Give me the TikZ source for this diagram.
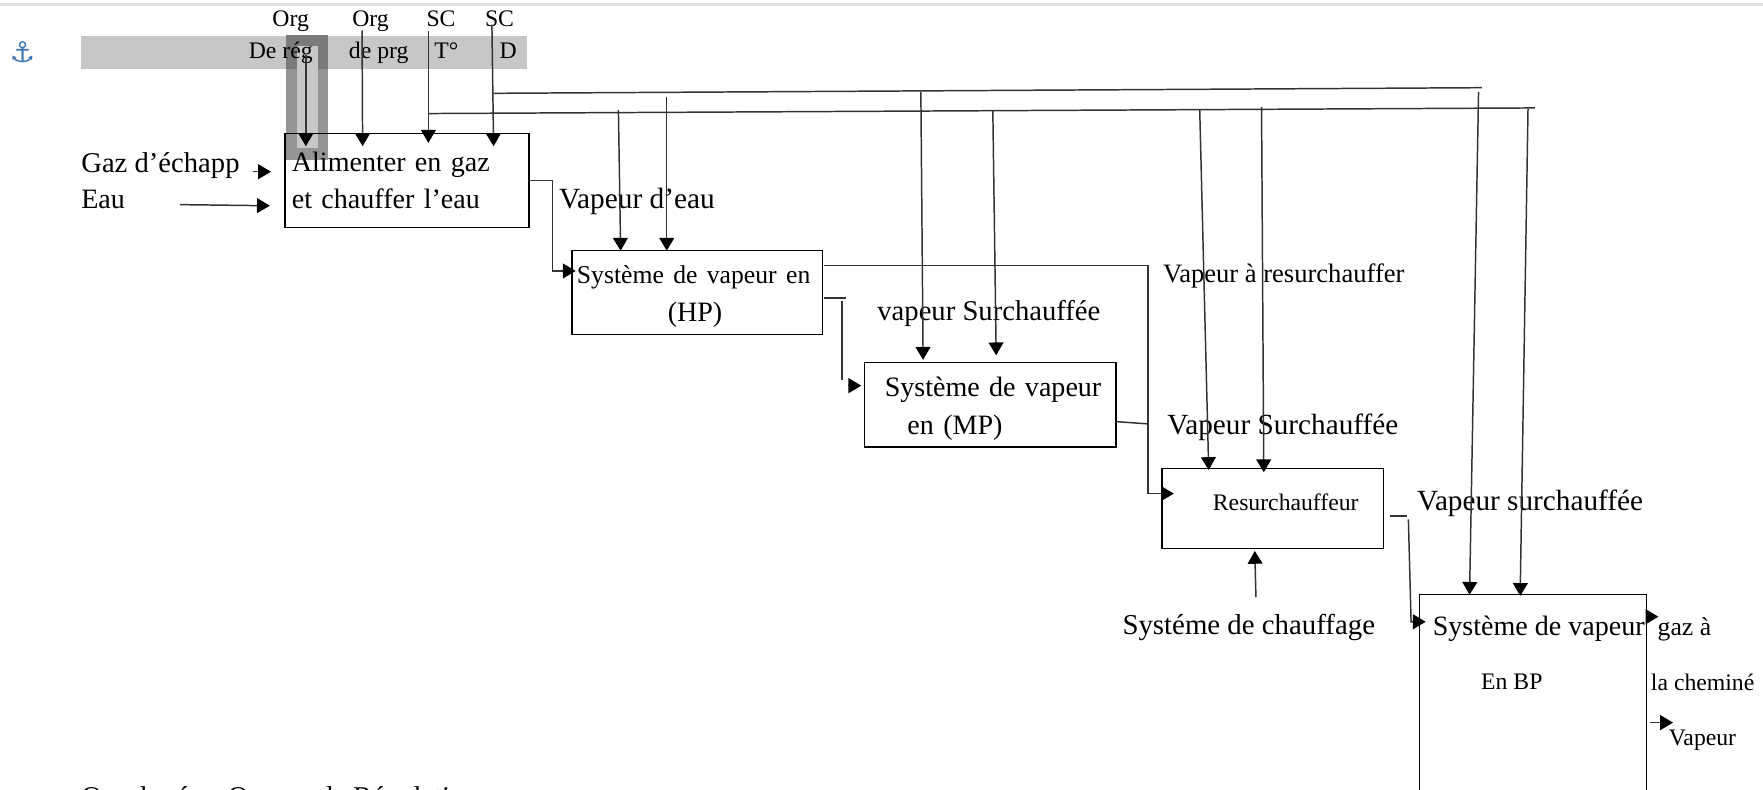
\documentclass[tikz,border=0pt]{standalone}
\usepackage{fontspec}
\setmainfont{Liberation Serif}
\newfontfamily\symbfont{DejaVu Sans}
\usetikzlibrary{arrows.meta}
\definecolor{anchorblue}{RGB}{62,117,178}
\tikzset{
    every node/.style={inner sep=0pt},
    lbl/.style={anchor=base west, font=\fontsize{#1}{16}\selectfont},
    lbl/.default=14.2,
    smalllbl/.style={anchor=base west, font=\fontsize{12}{14}\selectfont},
    box/.style={draw, line width=0.7pt, anchor=north west, align=left, font=\fontsize{14.2}{19}\selectfont},
    arr/.style={-{Triangle[length=6.5pt,width=7.5pt,black]}, line width=0.75pt, black!80},
    lin/.style={line width=0.75pt, black!80}
}
\begin{document}
\begin{tikzpicture}[x=0.02cm, y=-0.02cm]
        \useasboundingbox (0,0) rectangle (1568,702.6);
        \clip (0,0) rectangle (1568,702.6);

        % bandeau gris
        \fill[black!12] (0,3) rectangle (1568,5);
        \fill[black!22] (72,32) rectangle (469,61);
        \fill[black!42] (254,31) rectangle (292,142);
        \fill[black!52] (254,31) rectangle (292,61);
        \fill[black!22] (264,41) rectangle (283,132);
        \node[text=anchorblue, font=\symbfont\bfseries\fontsize{14.5}{15}\selectfont] (ancre) at (20,46) {\symbol{"2693}};

        % boites
        \node[box, minimum width=4.34cm, minimum height=1.68cm, text width=4.1cm] (alim) at (253,118) {Alimenter en gaz\\et chauffer l’eau};
        \node[box, minimum width=4.46cm, minimum height=1.5cm, text width=4.28cm] (hp) at (508,222) {\fontsize{13}{19}\selectfont\rule{0pt}{13pt}Système de vapeur en\\\hspace*{46pt}\fontsize{14.2}{19}\selectfont (HP)};
        \node[box, minimum width=4.48cm, minimum height=1.5cm, text width=4.1cm] (mp) at (768,322) {\rule{0pt}{13.5pt}\hspace*{5pt}Système de vapeur\\\hspace*{16.5pt}en (MP)};
        \node[box, minimum width=3.94cm, minimum height=1.42cm, text width=3.54cm, text depth=6.3pt, font=\fontsize{12}{14}\selectfont] (res) at (1033,416) {\hspace*{20pt}Resurchauffeur};
        \node[box, minimum width=4.04cm, minimum height=5cm] (bp) at (1262,528) {};

        % textes
        \node[smalllbl] (org1) at (242,24) {Org};
        \node[smalllbl] (org2) at (313,24) {Org};
        \node[smalllbl] (sc1) at (379,24) {SC};
        \node[smalllbl] (sc2) at (431,24) {SC};
        \node[smalllbl] (dereg) at (221,52) {De rég};
        \node[smalllbl] (deprg) at (310,52) {de prg};
        \node[smalllbl] (temp) at (386,52) {T°};
        \node[smalllbl] (debit) at (444,52) {D};
        \node[lbl=14.5] (gaz) at (72,153) {Gaz d’échapp};
        \node[lbl] (eau) at (72,185) {Eau};
        \node[lbl=14.85] (v1) at (497,185.5) {Vapeur d’eau};
        \node[lbl=13.45] (v2) at (1034,251) {Vapeur à resurchauffer};
        \node[lbl=14.5] (v3) at (780,285) {vapeur Surchauffée};
        \node[lbl=14.8] (v4) at (1038,386) {Vapeur Surchauffée};
        \node[lbl=14.8] (v5) at (1260,454) {Vapeur surchauffée};
        \node[lbl=14.6] (chauf) at (998,564) {Systéme de chauffage};
        \node[lbl] (bp1) at (1274,565) {Système de vapeur};
        \node[smalllbl] (bp2) at (1317,613.5) {En BP};
        \node[smalllbl, font=\fontsize{13}{15}\selectfont] (gazA) at (1474,565) {gaz à};
        \node[smalllbl] (chem) at (1468,614) {la cheminé};
        \node[smalllbl] (vap) at (1484,663) {Vapeur};
        \node[lbl=14.5] (note) at (72,717) {Org de rég : Organe de Régulation};

        % points libres
        \coordinate (regH) at (272,49);   \coordinate (regB) at (272,130);
        \coordinate (prgH) at (322,27);   \coordinate (prgB) at (322.5,130);
        \coordinate (tH) at (381,28);     \coordinate (tB) at (381,127);
        \coordinate (dH) at (437.5,22);   \coordinate (dB) at (439,130);
        \coordinate (busD) at (439,83);   \coordinate (busDfin) at (1318,78);
        \coordinate (busT) at (381,101);  \coordinate (busTfin) at (1365,96);
        \coordinate (gazD) at (224.6,152.7); \coordinate (gazF) at (241,152.7);
        \coordinate (eauD) at (160,182);  \coordinate (eauF) at (240,183);
        \coordinate (hpIn) at (512,241);
        \coordinate (hp1H) at (550,98);   \coordinate (hp1B) at (552,223);
        \coordinate (hp2H) at (593,86);   \coordinate (hp2B) at (593,223);
        \coordinate (mp1H) at (819,82);   \coordinate (mp1B) at (821,320);
        \coordinate (mp2H) at (883,98);   \coordinate (mp2B) at (886,316);
        \coordinate (res1H) at (1067,97); \coordinate (res1B) at (1075,418);
        \coordinate (res2H) at (1122,95); \coordinate (res2B) at (1124,420);
        \coordinate (bp1H) at (1315,82);  \coordinate (bp1B) at (1307,529);
        \coordinate (bp2H) at (1359,97);  \coordinate (bp2B) at (1352,530);
        \coordinate (hpOut) at (733,236); \coordinate (resIn) at (1044,439);
        \coordinate (hpOutB) at (733,265); \coordinate (hpOutF) at (752,265);
        \coordinate (mpH) at (749,268);   \coordinate (mpB) at (749,338);
        \coordinate (mpD) at (754,343);   \coordinate (mpF) at (766,343);
        \coordinate (mpOut) at (993,375); \coordinate (mpJoin) at (1021,377);
        \coordinate (resOut) at (1236,459); \coordinate (resOutF) at (1251,459);
        \coordinate (bpH) at (1252.6,462); \coordinate (bpC) at (1255,553); \coordinate (bpIn) at (1268,553);
        \coordinate (chaufH) at (1117,531); \coordinate (chaufF) at (1116,490);
        \coordinate (gazOutD) at (1465,548.5); \coordinate (gazOutF) at (1475,548.5);
        \coordinate (vapD) at (1467.5,642.7); \coordinate (vapF) at (1488,642.7);

        % fleches
        \draw[arr] (regH) -- (regB);
        \draw[arr] (prgH) -- (prgB);
        \draw[arr] (tH) -- (tB);
        \draw[arr] (dH) -- (dB);
        \draw[lin] (busD) -- (busDfin);
        \draw[lin] (busT) -- (busTfin);
        \draw[arr] (gazD) -- (gazF);
        \draw[arr] (eauD) -- (eauF);
        \draw[arr] (alim.east) -- ++(20,0) |- (hpIn);
        \draw[arr] (hp1H) -- (hp1B);
        \draw[arr] (hp2H) -- (hp2B);
        \draw[arr] (mp1H) -- (mp1B);
        \draw[arr] (mp2H) -- (mp2B);
        \draw[arr] (res1H) -- (res1B);
        \draw[arr] (res2H) -- (res2B);
        \draw[arr] (bp1H) -- (bp1B);
        \draw[arr] (bp2H) -- (bp2B);
        \draw[arr] (hpOut) -- ++(288,0) |- (resIn);
        \draw[lin] (hpOutB) -- (hpOutF);
        \draw[lin] (mpH) -- (mpB);
        \draw[arr] (mpD) -- (mpF);
        \draw[lin] (mpOut) -- (mpJoin);
        \draw[lin] (resOut) -- (resOutF);
        \draw[arr] (bpH) -- (bpC) -- (bpIn);
        \draw[arr] (chaufH) -- (chaufF);
        \draw[arr] (gazOutD) -- (gazOutF);
        \draw[arr] (vapD) -- (vapF);
\end{tikzpicture}
\end{document}
